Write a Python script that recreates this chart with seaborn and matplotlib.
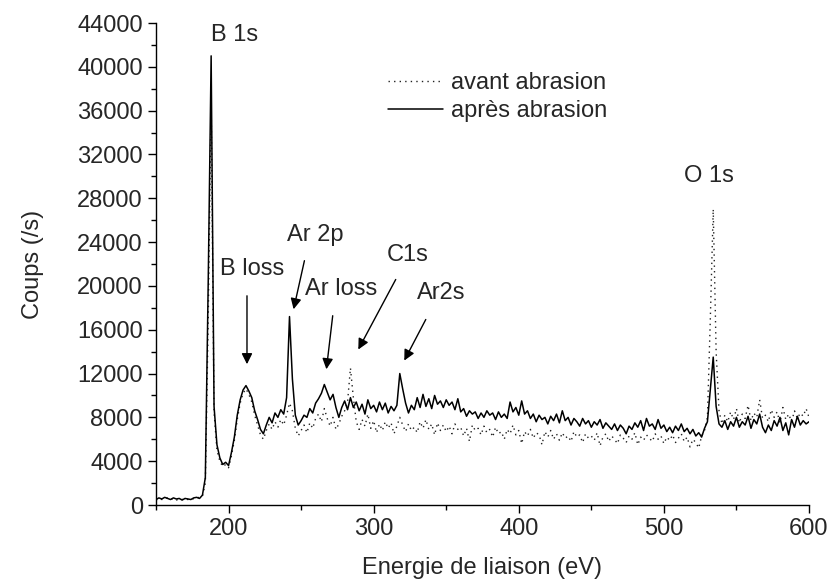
import numpy as np
import pandas as pd
import matplotlib
matplotlib.use("Agg")
import matplotlib.pyplot as plt
import seaborn as sns
from matplotlib.ticker import MultipleLocator
from matplotlib.lines import Line2D

# energie de liaison (eV), pas de 2 eV
energie = np.arange(150, 601, 2)

# spectre apres abrasion (trait plein)
apres = [
    500, 650, 550, 700, 600, 500, 650, 550, 600, 450,
    600, 550, 500, 650, 700, 600, 900, 2500, 20500, 41000,
    9000, 5500, 4300, 3700, 3900, 3600, 4800, 6200, 8200, 9600,
    10500, 10900, 10400, 9800, 8600, 7800, 6900, 6500, 7300, 8000,
    7500, 8400, 8000, 8700, 8300, 9800, 17200, 11500, 8200, 7300,
    7700, 8200, 8000, 8800, 8400, 9300, 9700, 10200, 11000, 10300,
    9600, 10100, 8900, 8000, 8900, 9500, 8700, 9800, 8900, 9400,
    8600, 9200, 8300, 9600, 8800, 9100, 8500, 9400, 8700, 9300,
    8400, 9000, 8600, 9100, 12000, 10600, 9300, 8400, 9100, 8700,
    9800, 8900, 10100, 9000, 9700, 8800, 10000, 9200, 9500, 8900,
    9600, 9100, 9400, 8700, 9700, 8500, 8800, 8100, 8600, 8300,
    8500, 7900, 8400, 8000, 8600, 8200, 8400, 7800, 8500, 8000,
    8300, 7900, 9400, 8500, 8900, 8200, 9500, 8300, 8600, 7900,
    8300, 7600, 8200, 7800, 8000, 7400, 8100, 7700, 8300, 7500,
    8600, 7700, 8000, 7300, 7900, 7600, 7200, 7900, 7400, 7700,
    7100, 7600, 7300, 7800, 7000, 7500, 7200, 6900, 7400, 6800,
    7300, 7000, 6500, 7200, 6900, 7500, 7100, 7700, 6800, 7900,
    7200, 7400, 6900, 7800, 7000, 7300, 6700, 7100, 6600, 7200,
    6800, 7400, 6700, 7000, 6500, 6900, 6300, 6600, 6200, 7000,
    7600, 10500, 13500, 9000, 7400, 7100, 7700, 6900, 7600, 7200,
    8000, 7100, 7600, 7300, 8100, 7000, 7800, 7400, 8300, 7100,
    6600, 7300, 6800, 7700, 7200, 8000, 6800, 7500, 6400, 7800,
    7100, 8100, 7300, 7700, 7400, 7600,
]

# spectre avant abrasion (pointille)
avant = [
    450, 600, 500, 550, 650, 500, 600, 450, 550, 500,
    550, 500, 600, 550, 650, 700, 800, 2000, 17000, 37000,
    8500, 5000, 4000, 3500, 3700, 3400, 4500, 5900, 7800, 9300,
    10200, 10600, 10100, 9400, 8200, 7300, 6400, 6000, 6800, 7400,
    6900, 7600, 7100, 7800, 7300, 8200, 9300, 8600, 7000, 6300,
    6800, 7300, 6600, 7500, 7000, 7900, 8300, 7600, 8800, 7900,
    7200, 8000, 6900, 7400, 8100, 8600, 9400, 12500, 9800, 7600,
    6900, 7800, 7200, 8300, 7000, 7700, 6600, 7400, 6800, 7600,
    7000, 7500, 6500, 7200, 8000, 7300, 6700, 7400, 6800, 7100,
    6600, 7600, 7000, 7800, 6900, 7400, 6400, 7500, 6800, 7300,
    6700, 7200, 6500, 7400, 6900, 7100, 6300, 7000, 5800, 7300,
    6800, 7000, 6400, 7200, 6600, 6900, 6200, 7100, 6500, 6700,
    6000, 6900, 6500, 7300, 6400, 6800, 5600, 6700, 6300, 6900,
    6100, 6600, 6400, 5500, 6700, 6200, 6800, 6000, 6500, 5900,
    6600, 6100, 6300, 5800, 6700, 6200, 6400, 5700, 6500, 6100,
    6300, 5900, 6600, 5400, 6200, 6500, 5800, 6300, 6000, 5600,
    6400, 6100, 5700, 6300, 6000, 6600, 5500, 6200, 5900, 6400,
    6100, 5800, 6500, 6000, 6300, 5600, 6200, 5900, 6400, 5700,
    6100, 6500, 5800, 6200, 5300, 6000, 5700, 5200, 6300, 6800,
    8000, 17000, 27000, 14000, 8600, 7400, 8200, 7600, 8500, 7800,
    8800, 7500, 8300, 7900, 9100, 7700, 8400, 8000, 9600, 7900,
    8200, 7600, 8700, 8000, 8500, 7500, 8900, 7800, 8300, 7600,
    8600, 7900, 8400, 8100, 8800, 8000,
]

# annotations des pics : texte, position du texte, queue et pointe de fleche
labels = ["B 1s", "B loss", "Ar 2p", "Ar loss", "C1s", "Ar2s", "O 1s"]
label_x = [204, 216.5, 260, 277.5, 323.3, 346.4, 531]
label_y = [42950, 21500, 24690, 19760, 22780, 19310, 29990]
arrow_from = [None, (212.7, 19350), (252.7, 22550), (272.0, 17530), (316.1, 20810), (336.8, 17160), None]
arrow_to = [None, (212.7, 12600), (244.4, 17620), (267.2, 12140), (288.5, 13970), (320.2, 12960), None]

df = pd.DataFrame({"energie": energie, "avant": avant, "apres": apres})

sns.set_style("ticks")
plt.rcParams["font.family"] = ["Liberation Sans", "DejaVu Sans"]

fig = plt.figure(figsize=(8.33, 5.87), dpi=100)
ax = fig.add_axes([156 / 833, 1 - 505 / 587, 653 / 833, 482 / 587])

dots = (0, (1, 3))
sns.lineplot(data=df, x="energie", y="avant", ax=ax, color="#222222",
             linewidth=1.0, linestyle=dots)
sns.lineplot(data=df, x="energie", y="apres", ax=ax, color="black",
             linewidth=1.1)

ax.set_xlim(150, 600)
ax.set_ylim(0, 44000)
ax.xaxis.set_major_locator(MultipleLocator(100))
ax.xaxis.set_minor_locator(MultipleLocator(50))
ax.yaxis.set_major_locator(MultipleLocator(4000))
ax.yaxis.set_minor_locator(MultipleLocator(2000))
ax.tick_params(which="major", length=6, width=1, labelsize=17, color="black")
ax.tick_params(which="minor", length=3.5, width=1, color="black")
sns.despine(ax=ax)
for s in ["left", "bottom"]:
    ax.spines[s].set_color("black")
    ax.spines[s].set_linewidth(1)

ax.set_xlabel("Energie de liaison (eV)", fontsize=17, labelpad=12)
ax.set_ylabel("Coups (/s)", fontsize=17, labelpad=24)

for t, x, y, a0, a1 in zip(labels, label_x, label_y, arrow_from, arrow_to):
    ax.text(x, y, t, fontsize=17, ha="center", va="center")
    if a0 is not None:
        ax.annotate("", xy=a1, xytext=a0,
                    arrowprops=dict(arrowstyle="-|>", color="black", lw=1,
                                    mutation_scale=16))

handles = [Line2D([], [], color="#222222", lw=1.0, linestyle=dots),
           Line2D([], [], color="black", lw=1.1)]
ax.legend(handles, ["avant abrasion", "après abrasion"], loc="center left",
          bbox_to_anchor=((367 - 156) / 653, 1 - (97 - 23) / 482),
          frameon=False, fontsize=17, handlelength=2.3, handletextpad=0.35,
          labelspacing=0.25)

fig.savefig("out.png", dpi=100)
